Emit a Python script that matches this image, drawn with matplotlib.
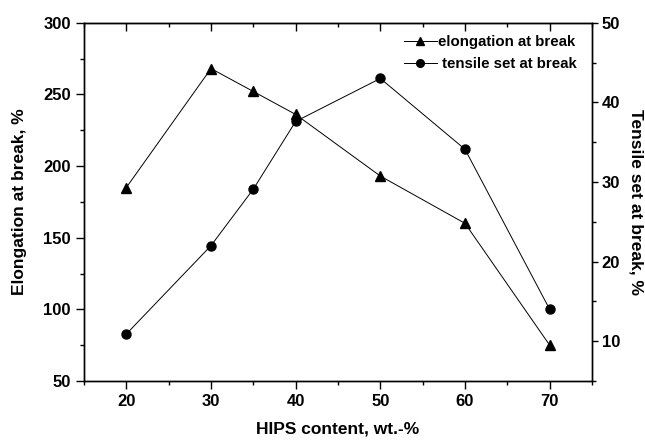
import matplotlib
matplotlib.use("Agg")
import matplotlib.pyplot as plt
from matplotlib.ticker import MultipleLocator

plt.rcParams['font.family'] = ['Liberation Sans', 'DejaVu Sans']
plt.rcParams['font.weight'] = 'bold'

hips = [20, 30, 35, 40, 50, 60, 70]
elongation = [185, 268, 252, 236, 193, 160, 75]
tensile_set = [10.9, 22.0, 29.1, 37.6, 43.0, 34.1, 14.0]

fig = plt.figure(figsize=(6.45, 4.4), dpi=100)
ax = fig.add_axes([84/645, 59/440, 508/645, 358.3/440])
ax2 = ax.twinx()

l1, = ax.plot(hips, elongation, color='black', lw=0.7, marker='^', ms=6.5,
              label='elongation at break')
l2, = ax2.plot(hips, tensile_set, color='black', lw=0.7, marker='o', ms=6.5,
               label=' tensile set at break')

ax.set_xlim(15, 75)
ax.set_ylim(50, 300)
ax2.set_ylim(5, 50)

ax.xaxis.set_major_locator(MultipleLocator(10))
ax.xaxis.set_minor_locator(MultipleLocator(5))
ax.yaxis.set_major_locator(MultipleLocator(50))
ax.yaxis.set_minor_locator(MultipleLocator(25))
ax2.yaxis.set_major_locator(MultipleLocator(10))
ax2.yaxis.set_minor_locator(MultipleLocator(5))

for a in (ax, ax2):
    for s in a.spines.values():
        s.set_linewidth(1.0)

ax.tick_params(axis='x', which='major', direction='out', length=5.5, width=1.0,
               labelsize=12, pad=3.5, top=False)
ax.tick_params(axis='x', which='minor', direction='out', length=3, width=1.0, top=False)
ax.tick_params(axis='y', which='major', direction='out', length=5.5, width=1.0,
               labelsize=12, pad=4, right=False)
ax.tick_params(axis='y', which='minor', direction='out', length=3, width=1.0, right=False)
ax2.tick_params(axis='y', which='major', direction='out', length=4, width=1.0,
                labelsize=12, pad=3)
ax2.tick_params(axis='y', which='minor', direction='out', length=3, width=1.0)

top = ax.secondary_xaxis('top')
top.xaxis.set_major_locator(MultipleLocator(10))
top.xaxis.set_minor_locator(MultipleLocator(5))
top.tick_params(axis='x', which='major', direction='in', length=5.5, width=1.0, labeltop=False)
top.tick_params(axis='x', which='minor', direction='in', length=3, width=1.0)

for lab in ax.get_xticklabels() + ax.get_yticklabels() + ax2.get_yticklabels():
    lab.set_fontweight('bold')

ax.set_xlabel('HIPS content, wt.-%', fontsize=12.5, fontweight='bold', labelpad=9)
ax.set_ylabel('Elongation at break, %', fontsize=12.5, fontweight='bold', labelpad=12)
ax2.set_ylabel('Tensile set at break, %', fontsize=12.5, fontweight='bold',
               rotation=270, va='bottom', labelpad=6)

leg = ax.legend(handles=[l1, l2], loc='upper right', bbox_to_anchor=(0.970, 0.966),
                frameon=False, fontsize=10.8, handlelength=2.2, handletextpad=0.1,
                borderaxespad=0, borderpad=0, labelspacing=0.55, markerscale=0.85)
for t in leg.get_texts():
    t.set_fontweight('bold')

fig.savefig('out.png', dpi=100)
